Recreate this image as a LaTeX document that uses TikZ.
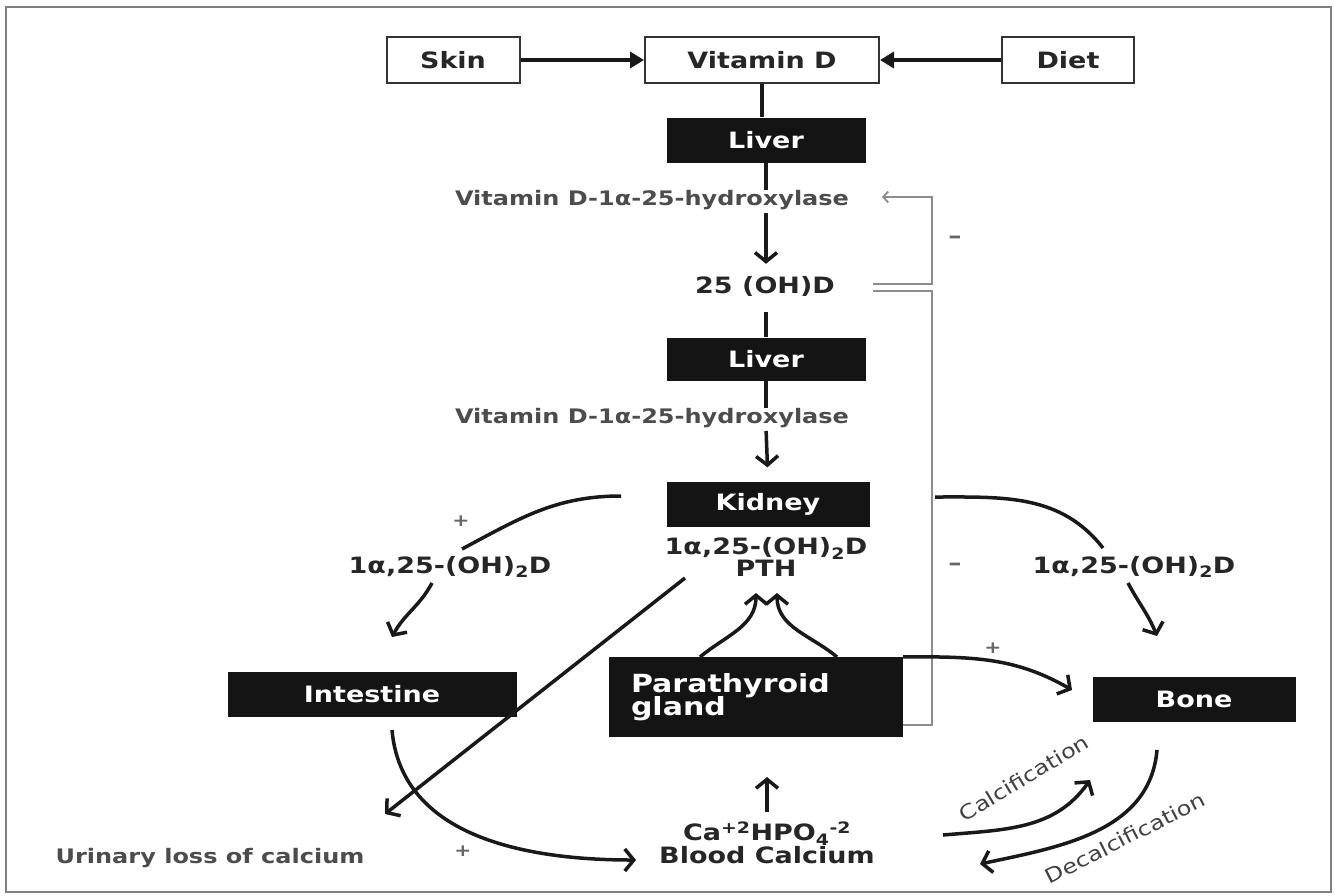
\documentclass[tikz,border=0pt]{standalone}
\usepackage{fontspec}
\newfontfamily\dfont{DejaVu Sans}[FakeStretch=1.2]
\usetikzlibrary{arrows.meta}
\begin{document}
\begin{tikzpicture}[x=1pt,y=-1pt,
 every node/.style={font=\dfont\bfseries\fontsize{22.5}{26}\selectfont},
 wbox/.style={draw=black!80,line width=2pt,fill=white,minimum height=46,text=black!85,inner sep=0},
 bbox/.style={fill=black!92,text=white,inner sep=0,minimum height=45},
 lbl/.style={inner sep=0,text=black!85},
 glbl/.style={inner sep=0,text=black!70,font=\dfont\bfseries\fontsize{20}{23}\selectfont},
 sign/.style={inner sep=0,text=black!60,font=\dfont\bfseries\fontsize{17}{19}\selectfont},
 rot/.style={inner sep=0,text=black!75,font=\dfont\fontsize{20}{22}\selectfont},
 ln/.style={line width=3.5pt,black!90},
 arr/.style={ln,-{Straight Barb[length=9pt,width=22pt]}},
 arrt/.style={ln,-{Triangle[length=14pt,width=16pt]}},
 gline/.style={line width=1.8pt,black!45},
]
\useasboundingbox (0,0) rectangle (1335,895);
\draw[black!50,line width=2pt] (6,7) rectangle (1331,892);

% nodes
\node[wbox,minimum width=133] (skin) at (453,60) {Skin};
\node[wbox,minimum width=234] (vitd) at (762,60) {Vitamin D};
\node[wbox,minimum width=132] (diet) at (1068,60) {Diet};
\node[bbox,minimum width=199] (liver1) at (766,140) {Liver};
\node[glbl] (hyd1) at (652,200) {Vitamin D-1α-25-hydroxylase};
\node[lbl] (ohd) at (765,286) {25 (OH)D};
\node[bbox,minimum width=199,minimum height=43] (liver2) at (766,359) {Liver};
\node[glbl] (hyd2) at (652,418) {Vitamin D-1α-25-hydroxylase};
\node[bbox,minimum width=203] (kidney) at (768,504) {Kidney};
\node[lbl,align=center] (kidtxt) at (766,557) {1α,25-(OH)\textsubscript{2}D\\[-4pt]PTH};
\node[bbox,minimum width=289] (intestine) at (372,694) {Intestine};
\node[bbox,minimum width=203] (bone) at (1194,699) {Bone};
\node[bbox,minimum height=80,text width=250,inner xsep=22,align=left,
      font=\dfont\bfseries\fontsize{25}{27}\selectfont] (para) at (756,697) {Parathyroid\\[-4pt]gland};
\node[lbl,align=center] (blood) at (767,843) {Ca\textsuperscript{+2}HPO\textsubscript{4}\textsuperscript{-2}\\[-3pt]Blood Calcium};
\node[glbl] (urin) at (210,858) {Urinary loss of calcium};
\node[lbl] (lft) at (450,567) {1α,25-(OH)\textsubscript{2}D};
\node[lbl] (rgt) at (1134,567) {1α,25-(OH)\textsubscript{2}D};
\node[sign,font=\dfont\bfseries\fontsize{22}{24}\selectfont] (s1) at (955,240) {–};
\node[sign,font=\dfont\bfseries\fontsize{22}{24}\selectfont] (s2) at (955,567) {–};
\node[sign] (s3) at (461,521) {+};
\node[sign] (s4) at (993,648) {+};
\node[sign] (s5) at (463,851) {+};
\node[rot,rotate=31] (calc) at (1024,778) {Calcification};
\node[rot,rotate=27] (decalc) at (1125,838) {Decalcification};

% coordinates for free ends
\coordinate (ga) at (873,284);
\coordinate (gb) at (882,197);
\coordinate (gc) at (873,291);
\coordinate (kl) at (621,496);
\coordinate (kle) at (462,549);
\coordinate (lfs) at (432,583);
\coordinate (lfe) at (392,637);
\coordinate (kr) at (935,497);
\coordinate (kre) at (1103,548);
\coordinate (rgs) at (1128,583);
\coordinate (rge) at (1157,636);
\coordinate (bonein) at (1072,690);
\coordinate (pl) at (700,657);
\coordinate (pr) at (837,657);
\coordinate (ptl) at (756,593);
\coordinate (ptr) at (777,593);
\coordinate (ints) at (392,730);
\coordinate (bloodin) at (636,860);
\coordinate (ks) at (685,578);
\coordinate (urtip) at (385,814);
\coordinate (bup) at (767,812);
\coordinate (pin) at (767,777);
\coordinate (cs) at (943,835);
\coordinate (ce) at (1090,780);
\coordinate (ds) at (1157,750);
\coordinate (de) at (980,864);

% connectors
\draw[arrt] (skin.east) -- (vitd.west);
\draw[arrt] (diet.west) -- (vitd.east);
\draw[ln] (vitd.south) -- (vitd.south |- liver1.north);
\draw[ln] (liver1.south) -- (liver1.south |- hyd1.north);
\draw[arr,shorten <=3pt,shorten >=12pt] (hyd1.south -| liver1.south) -- (ohd.north -| liver1.south);
\draw[ln,shorten <=16pt] (ohd.south -| liver2.north) -- (liver2.north);
\draw[ln] (liver2.south) -- (liver2.south |- hyd2.north);
\draw[arr,shorten <=3pt,shorten >=14pt] (hyd2.south -| liver2.south) -- (kidney.north);

\draw[gline,-{Straight Barb[length=5pt,width=11pt]}] (ga) -- (932,284) -- (932,197) -- (gb);
\draw[gline] (gc) -- (932,291) -- (932,725) -- (para.east |- 0,725);

\draw[ln] (kl) to[out=180,in=28] (kle);
\draw[arr] (lfs) to[out=-118,in=62] (lfe);
\draw[ln] (kr) to[out=0,in=128] (kre);
\draw[arr] (rgs) to[out=-62,in=112] (rge);
\draw[arr] (para.north east) to[out=0,in=150] (bonein);
\draw[arr] (pl) to[out=40,in=-90] (ptl);
\draw[arr] (pr) to[out=140,in=-90] (ptr);
\draw[arr] (ints) to[out=-85,in=180] (bloodin);
\draw[arr] (ks) -- (urtip);
\draw[arr] (bup) -- (pin);
\draw[arr] (cs) to[out=5,in=-125] (ce);
\draw[arr] (ds) to[out=-95,in=12] (de);
\end{tikzpicture}
\end{document}
